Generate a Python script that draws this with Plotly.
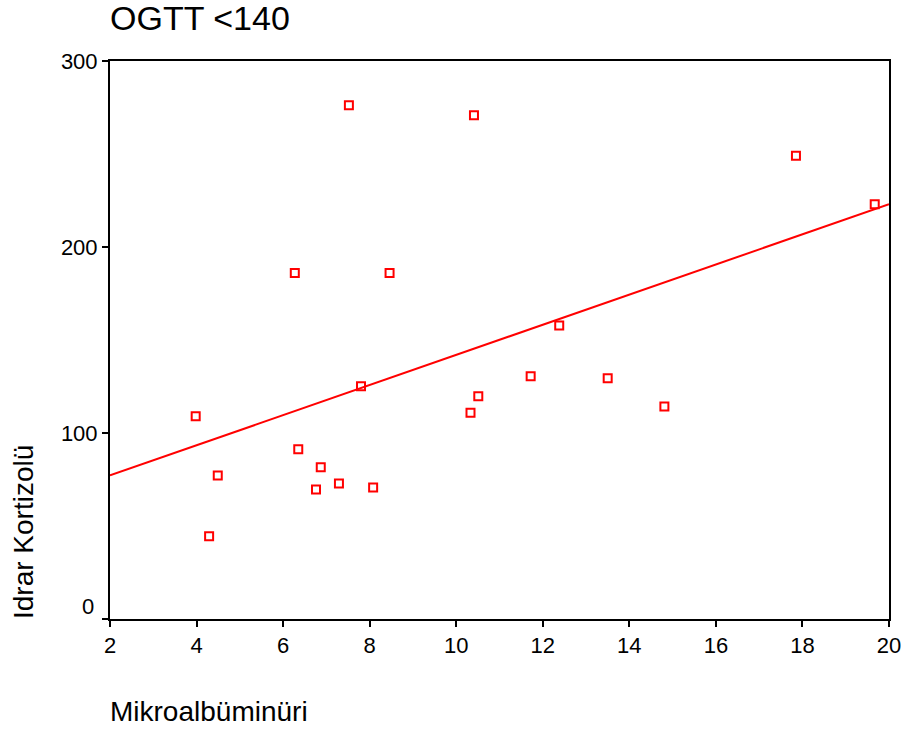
import plotly.graph_objects as go

# Data
mikroalbuminuri = [3.98, 4.29, 4.49, 6.27, 6.35, 6.76, 6.87, 7.29, 7.52, 7.80, 8.08,
                   8.46, 10.33, 10.41, 10.51, 11.72, 12.38, 13.50, 14.81, 17.85, 19.67]
idrar_kortizolu = [109, 44.5, 77.2, 186, 91.3, 69.6, 81.6, 72.8, 276.2, 125.2, 70.7,
                   186, 110.9, 270.9, 119.8, 130.5, 157.8, 129.5, 114.2, 249, 223]
fit_x = [2, 20]
fit_y = [77.2, 223.0]
y_tickvals = [0, 100, 200, 300]
y_ticktext = ["", "100", "200", "300"]
x_tickvals = [2, 4, 6, 8, 10, 12, 14, 16, 18, 20]

FONT = "Liberation Sans, Arial, Helvetica, sans-serif"
RED = "#ff0000"

fig = go.Figure()
fig.add_trace(go.Scatter(x=fit_x, y=fit_y, mode="lines",
                         line=dict(color=RED, width=2), showlegend=False,
                         hoverinfo="skip"))
fig.add_trace(go.Scatter(x=mikroalbuminuri, y=idrar_kortizolu, mode="markers",
                         marker=dict(symbol="square-open", size=8, color=RED,
                                     line=dict(color=RED, width=2)),
                         showlegend=False))

fig.update_layout(
    template="none",
    width=906, height=730,
    margin=dict(l=110, r=17, t=61, b=110.5, pad=0, autoexpand=False),
    paper_bgcolor="white", plot_bgcolor="white",
    font=dict(family=FONT, color="black", size=22),
    title=dict(text="OGTT <140", font=dict(family=FONT, size=34, color="black"),
               xref="paper", x=0, xanchor="left",
               yref="container", y=1 - 18 / 730, yanchor="middle"),
    xaxis=dict(range=[2, 20], tickvals=x_tickvals, showgrid=False, zeroline=False,
               automargin=False,
               showline=True, linecolor="black", linewidth=2, mirror=True,
               ticks="outside", ticklen=6, tickwidth=1.5, tickcolor="black",
               tickfont=dict(size=22)),
    yaxis=dict(range=[0, 300], tickvals=y_tickvals, ticktext=y_ticktext,
               showgrid=False, zeroline=False, automargin=False,
               showline=True, linecolor="black", linewidth=2, mirror=True,
               ticks="outside", ticklen=6, tickwidth=1.5, tickcolor="black",
               tickfont=dict(size=22)),
    annotations=[
        dict(text="0", xref="paper", x=0, xanchor="right", xshift=-14,
             yref="y", y=0, yanchor="middle", yshift=12.5, showarrow=False,
             font=dict(size=22)),
        dict(text="Mikroalbüminüri", xref="paper", x=0, xanchor="left", xshift=-2,
             yref="paper", y=0, yanchor="middle", yshift=-92, showarrow=False,
             font=dict(size=28)),
        dict(text="Idrar Kortizolü", textangle=-90, xref="paper", x=0,
             xanchor="center", xshift=-87, yref="paper", y=0, yanchor="bottom",
             yshift=-2, showarrow=False, font=dict(size=28)),
    ],
)

fig.write_html("out.html",
               config={"displayModeBar": False},
               post_script="document.body.style.margin='0px';"
                           "document.body.style.overflow='hidden';")
